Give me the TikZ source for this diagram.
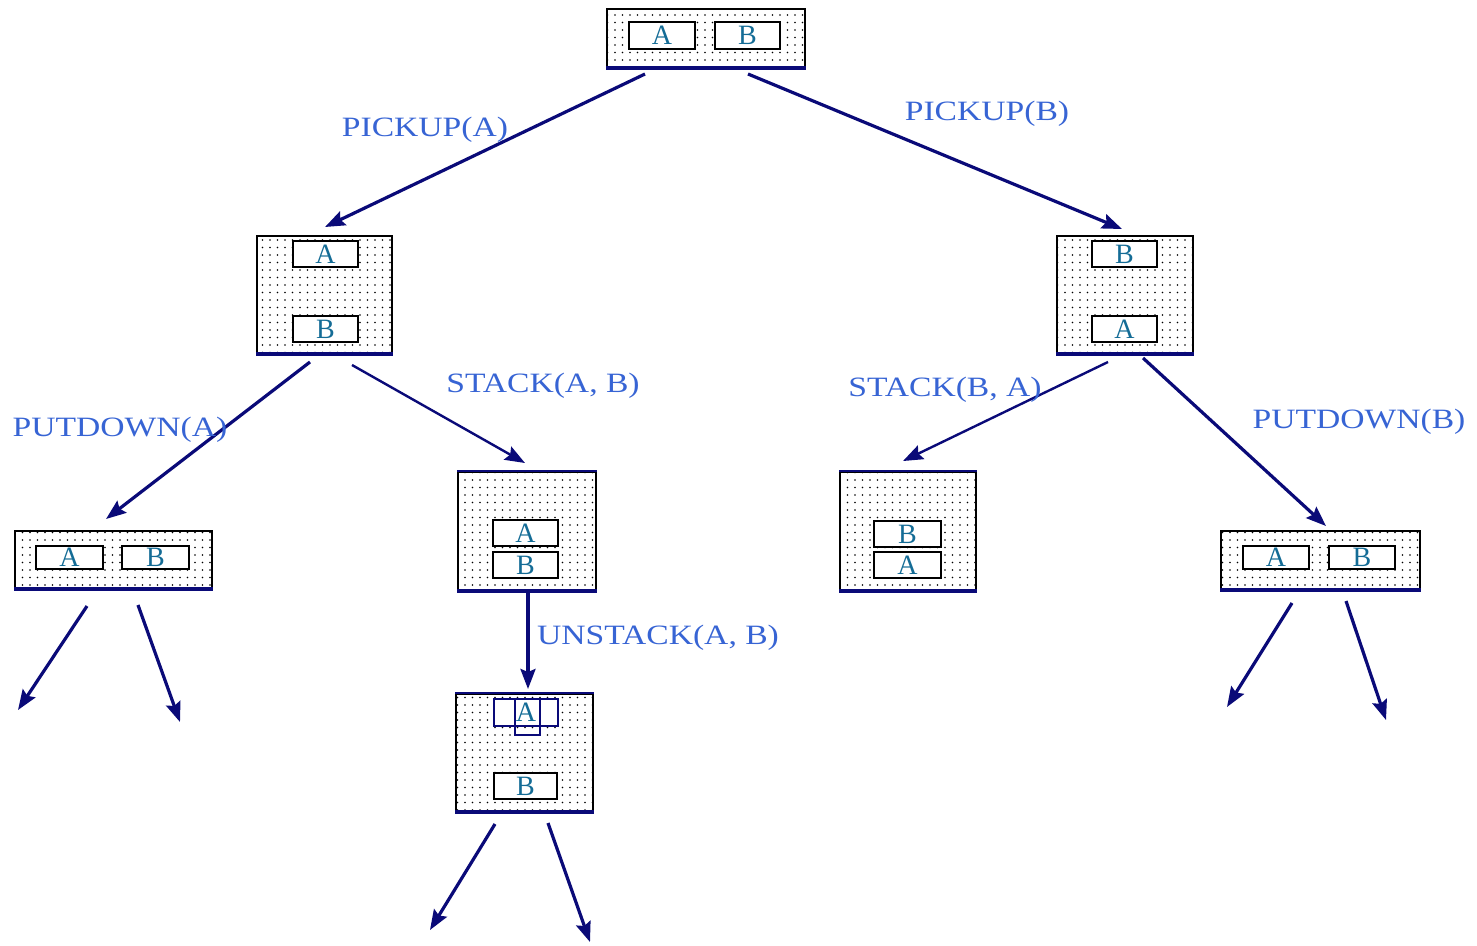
\documentclass[tikz,border=0pt]{standalone}
\usepackage{fontspec}
\setmainfont{Liberation Serif}
\usetikzlibrary{arrows.meta,patterns.meta}
\definecolor{navy}{RGB}{10,10,120}
\definecolor{lblue}{RGB}{55,100,212}
\definecolor{letter}{RGB}{20,108,150}
\newcommand{\lbl}[1]{\scalebox{1.2}[1]{#1}}
\tikzset{
  state/.style={draw=black, line width=2pt, pattern={Dots[distance=7.5pt,radius=0.9pt]}, inner sep=0pt},
  blk/.style={draw=black, line width=1.8pt, fill=white, text=letter, inner sep=0pt,
    font=\fontsize{28}{30}\selectfont, minimum width=65pt, minimum height=26pt},
  lab/.style={text=lblue, inner sep=0pt, font=\fontsize{28}{30}\selectfont},
  arr/.style={draw=navy, line width=3.2pt, -{Stealth[length=20pt,width=15pt,inset=3pt]}},
  navyline/.style={draw=navy, line width=3.5pt}
}
\begin{document}
\begin{tikzpicture}[x=1pt,y=-1pt]
\useasboundingbox (0,0) rectangle (1477,945);
% state boxes
\node[state, minimum width=198pt, minimum height=58pt] (top) at (706,38) {};
\node[state, minimum width=135pt, minimum height=117pt] (L1) at (324.5,294.5) {};
\node[state, minimum width=136pt, minimum height=117pt] (R1) at (1125,294.5) {};
\node[state, minimum width=197pt, minimum height=57pt] (LL) at (113.5,559.5) {};
\node[state, minimum width=138pt, minimum height=118pt] (LS) at (527,531) {};
\node[state, minimum width=136pt, minimum height=118pt] (RS) at (908,531) {};
\node[state, minimum width=199pt, minimum height=58pt] (RR) at (1320.5,560) {};
\node[state, minimum width=137pt, minimum height=117pt] (U) at (524.5,752.5) {};
% bottom / top navy edges
\foreach \n in {top,L1,R1,LL,LS,RS,RR,U}{
  \draw[navyline] (\n.south west) -- (\n.south east);
}
\draw[navyline, line width=2.5pt] (LS.north west) -- (LS.north east);
\draw[navyline, line width=2.5pt] (RS.north west) -- (RS.north east);
\draw[navyline, line width=2.5pt] (U.north west) -- (U.north east);
% blocks
\node[blk, minimum width=66pt, minimum height=27pt] (topA) at (662,35.5) {A};
\node[blk, minimum height=27pt] (topB) at (747.5,35.5) {B};
\node[blk] (L1A) at (325.5,254) {A};
\node[blk] (L1B) at (325.5,329) {B};
\node[blk] (R1B) at (1124.5,254) {B};
\node[blk] (R1A) at (1124.5,329) {A};
\node[blk, minimum width=67pt, minimum height=23pt] (LLA) at (69.5,557.5) {A};
\node[blk, minimum width=67pt, minimum height=23pt] (LLB) at (155.5,557.5) {B};
\node[blk] (LSA) at (525.5,533) {A};
\node[blk] (LSB) at (525.5,565) {B};
\node[blk, minimum width=67pt] (RSB) at (907.5,534) {B};
\node[blk, minimum width=67pt] (RSA) at (907.5,565) {A};
\node[blk, minimum width=66pt, minimum height=23pt] (RRA) at (1276,557.5) {A};
\node[blk, minimum width=66pt, minimum height=23pt] (RRB) at (1362,557.5) {B};
\node[blk, draw=navy, line width=2.6pt, minimum width=64pt, minimum height=27pt] (UA) at (526,712.5) {};
\node[draw=navy, line width=1.5pt, minimum width=25pt, minimum height=36pt, inner sep=0pt] (UAs) at (527.5,717) {};
\node[text=letter, inner sep=0pt, font=\fontsize{28}{30}\selectfont] (UAt) at (526,712.5) {A};
\node[blk, minimum width=63pt] (UB) at (525.5,786) {B};
% arrows between states
\draw[arr] ([shift={(-61,6)}]top.south) -- ([shift={(0.5,-8)}]L1.north);
\draw[arr] ([shift={(42,6)}]top.south) -- ([shift={(-3,-6)}]R1.north);
\draw[arr] ([shift={(-14.5,8)}]L1.south) -- ([shift={(-7.5,-11)}]LL.north);
\draw[arr, line width=2.4pt] ([shift={(27.5,11)}]L1.south) -- ([shift={(-2,-8)}]LS.north);
\draw[arr, line width=2.4pt] ([shift={(-17,8)}]R1.south) -- ([shift={(-5,-10)}]RS.north);
\draw[arr] ([shift={(18,4)}]R1.south) -- ([shift={(5.5,-4)}]RR.north);
\draw[arr] ([shift={(1,0)}]LS.south) -- ([shift={(3.5,-4)}]U.north);
% open-ended arrows
\coordinate (e1) at (18,710);
\coordinate (e2) at (180,722);
\coordinate (e3) at (1227,707);
\coordinate (e4) at (1386,720);
\coordinate (e5) at (430,930);
\coordinate (e6) at (590,942);
\draw[arr] ([shift={(-26.5,17)}]LL.south) -- (e1);
\draw[arr] ([shift={(24.5,16)}]LL.south) -- (e2);
\draw[arr] ([shift={(-28.5,13)}]RR.south) -- (e3);
\draw[arr] ([shift={(25.5,11)}]RR.south) -- (e4);
\draw[arr] ([shift={(-29.5,12)}]U.south) -- (e5);
\draw[arr] ([shift={(23.5,11)}]U.south) -- (e6);
% labels
\node[lab] (l1) at (425,130) {\lbl{PICKUP(A)}};
\node[lab] (l2) at (987,114) {\lbl{PICKUP(B)}};
\node[lab] (l3) at (120,430) {\lbl{PUTDOWN(A)}};
\node[lab] (l4) at (543,386) {\lbl{STACK(A, B)}};
\node[lab] (l5) at (945,390) {\lbl{STACK(B, A)}};
\node[lab] (l6) at (1359,422) {\lbl{PUTDOWN(B)}};
\node[lab] (l7) at (658,638) {\lbl{UNSTACK(A, B)}};
\end{tikzpicture}
\end{document}
